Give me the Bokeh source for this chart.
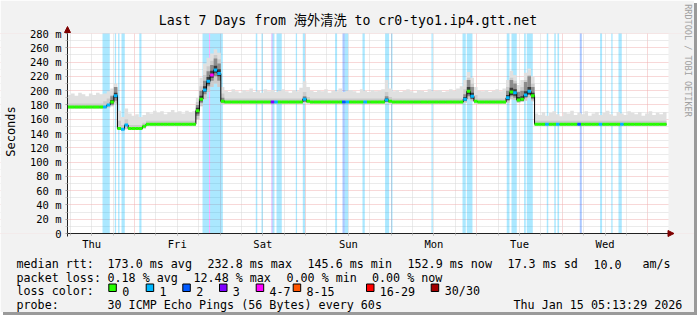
from datetime import datetime, timedelta
from math import pi

from bokeh.plotting import figure
from bokeh.models import Range1d, FixedTicker, Arrow, NormalHead
from bokeh.core.properties import value
from bokeh.embed import file_html
from bokeh.resources import INLINE

# ---------------------------------------------------------------- data
START = datetime(2026, 1, 8, 5, 13, 29)          # Thu Jan 8 05:13:29
HOURS = 168                                       # last 7 days, one value per hour
DAY_NAMES = ["Thu", "Fri", "Sat", "Sun", "Mon", "Tue", "Wed"]

Y_TICKS = [0, 20, 40, 60, 80, 100, 120, 140, 160, 180, 200, 220, 240, 260, 280]
Y_TICK_LABELS = ["0", "20 m", "40 m", "60 m", "80 m", "100 m", "120 m", "140 m",
                 "160 m", "180 m", "200 m", "220 m", "240 m", "260 m", "280 m"]

# median rtt per hour (ms)
median_ms = [
    177, 177, 177, 177, 177, 177, 177, 177, 177, 177,
    177, 180, 184, 193,
    147, 146, 152, 147, 147, 147, 147, 150,
    153, 153, 153, 153, 153, 153, 153, 153, 153, 153, 153, 153, 153, 153,
    172, 188, 201, 213, 222, 229, 224, 185,
    184, 184, 184, 184, 184, 184, 184, 184, 184, 184, 184,
    184, 184, 184, 184, 184, 184, 184, 184, 184, 184, 184,
    188, 185,
    184, 184, 184, 184, 184, 184, 184, 184, 184, 184, 184,
    184, 184, 184, 184, 184, 184, 184, 184, 184, 184,
    187, 185,
    184, 184, 184, 184, 184, 184, 184, 184, 184, 184,
    184, 184, 184, 184, 184, 184, 184, 184, 184, 184,
    188, 199, 192, 185,
    184, 184, 184, 184, 184, 184, 184, 184,
    190, 198, 197, 187, 188, 194, 199, 193,
    153, 153, 153, 153, 153, 153, 153, 153, 153, 153, 153, 153, 153,
    153, 153, 153, 153, 153, 153, 153, 153, 153, 153, 153, 153, 153,
    153, 153, 153, 153, 153, 153, 153, 153, 153, 153, 153,
]

# lost pings (of 30) per hour
loss_pings = [
    0, 0, 0, 0, 0, 0, 0, 0, 0, 0,
    1, 1, 0, 1,
    0, 1, 1, 0, 0, 0, 0, 0,
    0, 0, 0, 0, 0, 0, 0, 0, 0, 0, 0, 0, 0, 0,
    0, 0, 1, 1, 5, 1, 1, 0,
    0, 0, 0, 0, 0, 0, 0, 0, 0, 0, 0,
    0, 0, 3, 1, 0, 0, 0, 0, 0, 0, 0,
    1, 0,
    0, 0, 0, 0, 0, 0, 0, 0, 0, 2, 1,
    0, 0, 0, 0, 1, 0, 0, 0, 0, 0,
    1, 0,
    0, 0, 0, 0, 0, 0, 0, 0, 0, 0,
    0, 0, 0, 0, 0, 0, 0, 0, 0, 0,
    1, 0, 1, 0,
    0, 0, 0, 0, 0, 0, 0, 0,
    1, 0, 1, 0, 0, 1, 1, 0,
    0, 0, 0, 1, 0, 0, 1, 0, 0, 0, 0, 0, 2,
    0, 0, 0, 0, 0, 1, 0, 0, 0, 0, 0, 1, 0,
    0, 0, 0, 0, 0, 0, 0, 0, 0, 0, 0,
]

# smoke: lowest ping, upper edge of the dense band, highest ping (ms)
smoke_lo = [
    175, 175, 175, 175, 175, 175, 175, 175, 175, 175,
    175, 176, 178, 182,
    145, 144, 146, 145, 145, 145, 145, 147,
    151, 151, 151, 151, 151, 151, 151, 151, 151, 151, 151, 151, 151, 151,
    160, 178, 188, 198, 205, 210, 205, 181,
    182, 182, 182, 182, 182, 182, 182, 182, 182, 182, 182,
    182, 182, 182, 182, 182, 182, 182, 182, 182, 182, 182,
    183, 182,
    182, 182, 182, 182, 182, 182, 182, 182, 182, 182, 182,
    182, 182, 182, 182, 182, 182, 182, 182, 182, 182,
    183, 182,
    182, 182, 182, 182, 182, 182, 182, 182, 182, 182,
    182, 182, 182, 182, 182, 182, 182, 182, 182, 182,
    183, 188, 185, 182,
    182, 182, 182, 182, 182, 182, 182, 182,
    183, 188, 187, 183, 184, 186, 190, 185,
    151, 151, 151, 151, 151, 151, 151, 151, 151, 151, 151, 151, 151,
    151, 151, 151, 151, 151, 151, 151, 151, 151, 151, 151, 151, 151,
    151, 151, 151, 151, 151, 151, 151, 151, 151, 151, 151,
]
smoke_mid = [
    182, 182, 182, 182, 182, 182, 182, 182, 182, 182,
    185, 189, 194, 203,
    158, 152, 160, 152, 152, 152, 152, 155,
    158, 158, 158, 158, 158, 158, 158, 158, 158, 158, 158, 158, 158, 158,
    184, 206, 222, 234, 242, 250, 244, 196,
    189, 189, 189, 189, 189, 189, 189, 189, 189, 189, 189,
    189, 189, 189, 189, 189, 189, 189, 189, 189, 189, 189,
    198, 191,
    189, 189, 189, 189, 189, 189, 189, 189, 189, 189, 189,
    189, 189, 189, 189, 189, 189, 189, 189, 189, 189,
    198, 191,
    189, 189, 189, 189, 189, 189, 189, 189, 189, 189,
    189, 189, 189, 189, 189, 189, 189, 189, 189, 189,
    202, 218, 210, 194,
    189, 189, 189, 189, 189, 189, 189, 189,
    205, 218, 214, 200, 205, 215, 222, 210,
    158, 158, 158, 158, 158, 158, 158, 158, 158, 158, 158, 158, 158,
    158, 158, 158, 158, 158, 158, 158, 158, 158, 158, 158, 158, 158,
    158, 158, 158, 158, 158, 158, 158, 158, 158, 158, 158,
]
smoke_hi = [
    194, 196, 193, 197, 195, 192, 196, 194, 197, 195,
    196, 199, 203, 210,
    172, 163, 175, 168, 165, 167, 163, 166,
    170, 168, 172, 169, 171, 167, 170, 173, 169, 171, 168, 172, 170, 171,
    190, 218, 238, 246, 252, 258, 253, 205,
    200, 198, 202, 199, 197, 201, 199, 203, 198, 200, 197,
    202, 199, 201, 198, 200, 202, 199, 197, 201, 199, 204,
    213, 205,
    200, 198, 201, 199, 202, 197, 200, 199, 203, 198, 200,
    201, 199, 197, 202, 200, 198, 201, 199, 200, 202,
    215, 203,
    199, 201, 198, 200, 202, 199, 197, 201, 200, 198,
    202, 199, 200, 201, 198, 199, 202, 200, 203, 206,
    215, 226, 218, 205,
    200, 199, 201, 198, 200, 202, 199, 203,
    215, 228, 222, 208, 215, 225, 231, 220,
    168, 166, 170, 165, 169, 171, 167, 164, 170, 168, 172, 166, 169,
    167, 171, 165, 168, 170, 166, 169, 172, 167, 165, 170, 168, 166,
    171, 169, 167, 170, 165, 168, 171, 166, 169, 167, 170,
]

# dark smoke during the latency bumps: hour index, outer and inner band (ms)
core_hour = [12, 13, 36, 37, 38, 39, 40, 41, 42, 43, 66, 89, 111, 112, 113,
             123, 124, 125, 126, 127, 128, 129, 130]
core_lo = [180, 186, 165, 183, 195, 206, 214, 220, 214, 183, 184, 184, 185, 192, 188,
           186, 192, 190, 185, 186, 190, 194, 188]
core_hi = [192, 205, 180, 200, 214, 227, 236, 245, 238, 190, 192, 192, 195, 215, 205,
           200, 215, 210, 198, 200, 212, 220, 205]
inner_lo = [182, 190, 168, 185, 198, 209, 218, 225, 220, 184, 186, 185, 186, 195, 189,
            187, 194, 193, 185, 186, 191, 195, 190]
inner_hi = [187, 197, 176, 193, 206, 219, 228, 235, 230, 187, 190, 189, 191, 205, 197,
            194, 204, 202, 191, 192, 199, 205, 197]

# loss background stripes: start hour, end hour, lost pings
bar_start_h = [9.82, 13.27, 14.19, 15.14, 20.14, 37.86, 39.71, 39.99, 52.81, 54.41,
               57.21, 57.49, 58.62, 64.03, 65.99, 75.05, 77.13, 77.77, 82.73, 89.07,
               90.76, 102.09, 110.78, 111.99, 123.20, 124.52, 128.06, 128.81, 134.42,
               136.53, 137.42, 143.68, 149.37, 152.51, 154.53]
bar_end_h = [11.86, 13.63, 14.58, 16.07, 20.75, 39.71, 39.99, 43.56, 53.23, 54.77,
             57.49, 58.05, 60.10, 64.39, 66.64, 75.61, 77.77, 78.70, 83.38, 90.20,
             91.15, 102.45, 111.71, 113.58, 123.96, 126.01, 128.53, 130.50, 134.84,
             136.95, 137.87, 144.24, 149.93, 152.88, 155.46]
bar_loss = [1, 1, 1, 1, 1, 1, 5, 1, 1, 1,
            3, 1, 1, 1, 1, 1, 2, 1, 1, 1,
            1, 1, 1, 1, 1, 1, 1, 1, 1,
            1, 1, 2, 1, 1, 1]

LOSS_LABELS = ["0", "1", "2", "3", "4-7", "8-15", "16-29", "30/30"]
LOSS_COLORS = ["#26ff00", "#00b8ff", "#0059ff", "#7e00ff", "#ff00ff", "#ff5500", "#ff0000", "#a10000"]

STATS_RTT = ["173.0 ms avg", "232.8 ms max", "145.6 ms min", "152.9 ms now", "17.3 ms sd", "10.0", "am/s"]
STATS_LOSS = ["0.18 % avg", "12.48 % max", "0.00 % min", "0.00 % now"]
PROBE = "30 ICMP Echo Pings (56 Bytes) every 60s"
STAMP = "Thu Jan 15 05:13:29 2026"
TITLE = "Last 7 Days from 海外清洗 to cr0-tyo1.ip4.gtt.net"

for name, arr in [("median", median_ms), ("loss", loss_pings), ("lo", smoke_lo),
                  ("mid", smoke_mid), ("hi", smoke_hi)]:
    if len(arr) != HOURS:
        raise SystemExit(f"{name} has {len(arr)} values")

# ---------------------------------------------------------------- geometry
EPOCH = datetime(1970, 1, 1)
H_MS = 3600000.0
W, H = 694, 312                  # canvas (a 3px shade is added outside)
FL, FT, FW, FH = 67, 33, 599, 200  # graph area in canvas pixels
FB = FT + FH
Y_MAX = 280.0
MS_PER_PX_Y = Y_MAX / FH


def to_ms(dt):
    return (dt - EPOCH).total_seconds() * 1000.0


T0 = to_ms(START)
T1 = T0 + HOURS * H_MS
MS_PER_PX_X = (T1 - T0) / FW


def X(px):
    return T0 + (px - FL) * MS_PER_PX_X


def Y(py):
    return (FB - py) * MS_PER_PX_Y


edges = [T0 + i * H_MS for i in range(HOURS + 1)]


def steps(vals):
    xs, ys = [], []
    for i, v in enumerate(vals):
        xs += [edges[i], edges[i + 1]]
        ys += [v, v]
    return xs, ys


def loss_idx(n):
    if n <= 3:
        return n
    if n <= 7:
        return 4
    if n <= 15:
        return 5
    if n <= 29:
        return 6
    return 7


MONO = "'DejaVu Sans Mono', 'Noto Sans CJK SC'"
BG = "#f2f2f2"

p = figure(width=W, height=H, x_axis_type="datetime", output_backend="svg",
           toolbar_location=None, tools="",
           x_range=Range1d(X(0), X(W)), y_range=Range1d(Y(H), Y(0)),
           min_border=0, min_border_left=0, min_border_right=0,
           min_border_top=0, min_border_bottom=0)
p.background_fill_color = "#ffffff"
p.border_fill_color = BG
p.outline_line_color = None
p.styles = {"box-shadow": "3px 3px 0px 0px #9a9a9a"}

# ---- grid
midnights = [to_ms(datetime(2026, 1, 9) + timedelta(days=d)) for d in range(7)]
sixes = [to_ms(datetime(2026, 1, 8, 6) + timedelta(hours=6 * k)) for k in range(28)]
sixes_minor = [s for s in sixes if s not in midnights]
noons = [to_ms(datetime(2026, 1, 8, 12) + timedelta(days=d)) for d in range(7)]
y_minor = [v + 10 for v in Y_TICKS[:-1]]

RED_GRID, GRAY_GRID = "#f0b0b0", "#d6d6d6"
p.xgrid.ticker = FixedTicker(ticks=midnights, minor_ticks=sixes_minor)
p.ygrid.ticker = FixedTicker(ticks=Y_TICKS, minor_ticks=y_minor)
for g in (p.xgrid[0], p.ygrid[0]):
    g.grid_line_color = RED_GRID
    g.grid_line_dash = "1 1"
    g.minor_grid_line_color = GRAY_GRID
    g.minor_grid_line_dash = "1 1"

# ---- axes drawn at the graph's own origin
p.xaxis.fixed_location = 0
p.yaxis.fixed_location = T0
p.xaxis.bounds = (T0, X(668))
p.yaxis.bounds = (Y(236), Y(28))
p.xaxis.ticker = FixedTicker(ticks=noons, minor_ticks=sixes)
p.xaxis.major_label_overrides = {n: d for n, d in zip(noons, DAY_NAMES)}
p.yaxis.ticker = FixedTicker(ticks=Y_TICKS, minor_ticks=y_minor)
p.yaxis.major_label_overrides = {v: s for v, s in zip(Y_TICKS, Y_TICK_LABELS)}
for ax in (p.xaxis[0], p.yaxis[0]):
    ax.axis_line_color = "#222222"
    ax.axis_line_width = 1
    ax.major_tick_in = 0
    ax.minor_tick_in = 0
    ax.major_tick_out = 2
    ax.minor_tick_out = 2
    ax.major_tick_line_color = "#a0a0a0"
    ax.minor_tick_line_color = "#c0c0c0"
    ax.major_label_text_font = MONO
    ax.major_label_text_font_size = "10.5px"
    ax.major_label_text_color = "#000000"
p.xaxis.major_label_standoff = 2
p.yaxis.major_label_standoff = 4

# ---- background outside the graph area
p.quad(left=[X(0), X(0), X(0), X(668)], right=[X(W), X(W), T0, X(W)],
       bottom=[Y_MAX, Y(H), 0, 0], top=[Y(0), 0, Y_MAX, Y_MAX],
       fill_color=BG, line_color=None)

# ---- loss background stripes
p.quad(left=[T0 + h * H_MS for h in bar_start_h], right=[T0 + h * H_MS for h in bar_end_h],
       bottom=0, top=Y_MAX, fill_color=[LOSS_COLORS[loss_idx(n)] for n in bar_loss],
       fill_alpha=0.33, line_color=None)

# ---- smoke
xs, lo_s = steps(smoke_lo)
_, mid_s = steps(smoke_mid)
_, hi_s = steps(smoke_hi)
p.varea(x=xs, y1=lo_s, y2=hi_s, fill_color="#e0e0e0")
p.varea(x=xs, y1=lo_s, y2=mid_s, fill_color="#cbcbcb")
p.quad(left=[edges[i] for i in core_hour], right=[edges[i + 1] for i in core_hour],
       bottom=core_lo, top=core_hi, fill_color="#8c8c8c", line_color=None)
p.quad(left=[edges[i] for i in core_hour], right=[edges[i + 1] for i in core_hour],
       bottom=inner_lo, top=inner_hi, fill_color="#3a3a3a", line_color=None)

# ---- median
_, med_s = steps(median_ms)
p.line(xs, med_s, line_color="#000000", line_width=1)
p.segment(x0=edges[:-1], x1=edges[1:], y0=median_ms, y1=median_ms,
          line_color=[LOSS_COLORS[loss_idx(n)] for n in loss_pings], line_width=3)

# ---- axis arrows
ARROW = "#7f0000"
p.add_layout(Arrow(end=NormalHead(size=6, fill_color=ARROW, line_color=ARROW),
                   x_start=T0, y_start=Y(31), x_end=T0, y_end=Y(26),
                   line_color=ARROW, line_width=1))
p.add_layout(Arrow(end=NormalHead(size=6, fill_color=ARROW, line_color=ARROW),
                   x_start=X(668), y_start=0, x_end=X(673.5), y_end=0,
                   line_color=ARROW, line_width=1))


# ---- texts, placed in canvas pixels
def text(strings, xs_px, ys_px, size, align="left", baseline="alphabetic", angle=0.0,
         color="#000000"):
    p.text(x=[X(v) for v in xs_px], y=[Y(v) for v in ys_px], text=strings,
           text_font=value(MONO), text_font_size=value(f"{size}px"),
           text_align=align, text_baseline=baseline, angle=angle, text_color=color)


text([TITLE], [347.5], [19.5], 13.2, align="center")
text(["Seconds"], [10], [131], 12, align="center", baseline="middle", angle=pi / 2)
text(["RRDTOOL / TOBI OETIKER"], [687], [60], 8.5, align="center", baseline="middle",
     angle=-pi / 2, color="#a0a0a0")

LEG = 11.7
R1, R2, R3, R4 = 263.5, 277.2, 290.8, 304.5
text(["median rtt:"] + STATS_RTT, [16, 107, 207, 307, 407, 507, 593, 642], [R1] * 8, LEG)
text(["packet loss:"] + STATS_LOSS, [16, 107, 193, 286, 371.5], [R2] * 5, LEG)
box_x = [108.3, 145.7, 182.3, 219, 255.7, 292.7, 366, 430.7]
lab_x = [121.7, 159, 195.7, 232.3, 269, 306, 379.3, 444.3]
p.quad(left=[X(b) for b in box_x], right=[X(b + 7.5) for b in box_x],
       top=Y(283.5), bottom=Y(291), fill_color=LOSS_COLORS, line_color="#000000", line_width=1)
text(["loss color:"] + LOSS_LABELS, [16] + lab_x, [R3] * 9, LEG)
text(["probe:", PROBE, STAMP], [16, 107, 513], [R4] * 3, LEG)

open("out.html", "w").write(file_html(p, INLINE))
